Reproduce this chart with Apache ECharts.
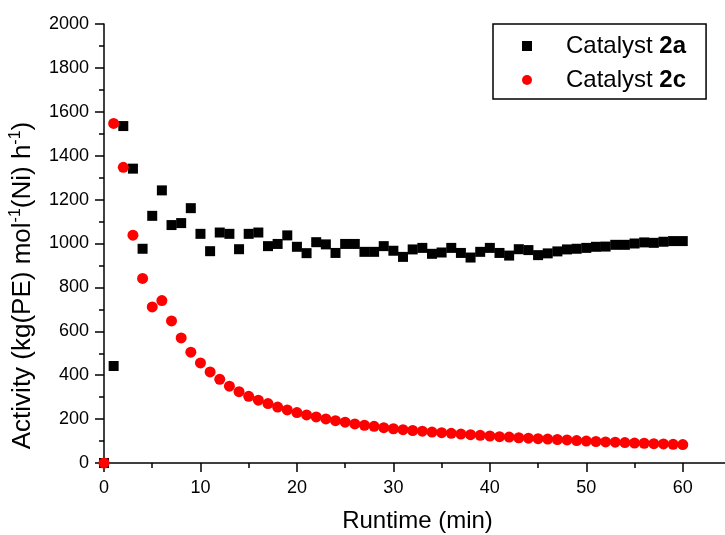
<!DOCTYPE html>
<html>
<head>
<meta charset="utf-8">
<script src="https://cdn.jsdelivr.net/npm/echarts@6/dist/echarts.min.js"></script>
<style>
  html, body { margin: 0; padding: 0; background: #fff; }
  #chart { width: 725px; height: 535px; }
</style>
</head>
<body>
<div id="chart"></div>
<script>
// runtime in minutes, one sample per minute
const runtime = [];
for (let t = 0; t <= 60; t++) runtime.push(t);

// Catalyst 2a (black squares)
const act2a = [
  0, 442, 1535, 1341, 976, 1126, 1242, 1084, 1093, 1161,
  1044, 965, 1050, 1044, 974, 1044, 1050, 988, 998, 1037,
  985, 956, 1006, 996, 957, 998, 998, 962, 962, 988,
  967, 939, 973, 980, 953, 959, 980, 957, 936, 962,
  980, 957, 945, 974, 970, 947, 955, 964, 973, 976,
  980, 985, 986, 994, 994, 1000, 1005, 1003, 1008, 1011,
  1011
];

// Catalyst 2c (red circles)
const act2c = [
  0, 1547, 1347, 1038, 841, 711, 740, 647, 570, 505,
  456, 415, 381, 350, 325, 304, 286, 271, 255, 242,
  230, 219, 210, 201, 193, 186, 178, 172, 167, 161,
  156, 152, 148, 145, 141, 138, 135, 132, 129, 126,
  123, 120, 118, 115, 113, 111, 109, 107, 105, 102,
  100, 98, 96, 95, 93, 91, 90, 88, 87, 85,
  84
];

const font = 'Liberation Sans, Arial, sans-serif';

const chart = echarts.init(document.getElementById('chart'));
const option = {
  animation: false,
  backgroundColor: '#fff',
  textStyle: { fontFamily: font },
  grid: { left: 104, top: 24, width: 627, height: 439, outerBoundsMode: 'none', containLabel: false },
  legend: {
    orient: 'vertical',
    left: 493, top: 24,
    padding: [10, 20, 7, 29],
    itemGap: 10,
    itemWidth: 10, itemHeight: 10,
    borderColor: '#000', borderWidth: 1.5, borderRadius: 0,
    data: [
      { name: '2a', icon: 'rect' },
      { name: '2c', icon: 'circle' }
    ],
    formatter: n => 'Catalyst {b|' + n + '}',
    textStyle: {
      fontFamily: font, fontSize: 24, color: '#000', padding: [0, 0, 0, 29],
      rich: { b: { fontFamily: font, fontSize: 24, fontWeight: 'bold', color: '#000' } }
    }
  },
  xAxis: {
    type: 'value', min: 0, max: 65, interval: 10,
    name: 'Runtime (min)', nameLocation: 'middle', nameGap: 46,
    nameTextStyle: { fontFamily: font, fontSize: 24, color: '#000' },
    axisLine: { lineStyle: { color: '#000', width: 1.5 } },
    axisTick: { show: true, length: 9, lineStyle: { color: '#000', width: 1.5 } },
    minorTick: { show: true, splitNumber: 2, length: 5, lineStyle: { color: '#000', width: 1.5 } },
    axisLabel: { fontFamily: font, fontSize: 18, color: '#000', margin: 16, showMaxLabel: false },
    splitLine: { show: false }
  },
  yAxis: {
    type: 'value', min: 0, max: 2000, interval: 200,
    name: 'Activity (kg(PE) mol{sup|-1}(Ni) h{sup|-1})',
    nameLocation: 'middle', nameRotate: 90, nameGap: 63,
    nameTextStyle: {
      fontFamily: font, fontSize: 26, color: '#000', lineHeight: 30,
      padding: [0, 84, 0, 0],
      rich: { sup: { fontFamily: font, fontSize: 16, lineHeight: 16, color: '#000', verticalAlign: 'top' } }
    },
    axisLine: { show: true, lineStyle: { color: '#000', width: 1.5 } },
    axisTick: { show: true, length: 9, lineStyle: { color: '#000', width: 1.5 } },
    minorTick: { show: true, splitNumber: 2, length: 5, lineStyle: { color: '#000', width: 1.5 } },
    axisLabel: { fontFamily: font, fontSize: 18, color: '#000', margin: 15, formatter: v => String(v) },
    splitLine: { show: false }
  },
  series: [
    {
      name: '2a', type: 'scatter', symbol: 'rect', symbolSize: 10,
      itemStyle: { color: '#000', opacity: 1 },
      data: runtime.map((t, i) => [t, act2a[i]])
    },
    {
      name: '2c', type: 'scatter', symbol: 'circle', symbolSize: 11,
      itemStyle: { color: '#ff0000', opacity: 1 },
      data: runtime.map((t, i) => [t, act2c[i]])
    }
  ]
};
chart.setOption(option);
</script>
</body>
</html>
